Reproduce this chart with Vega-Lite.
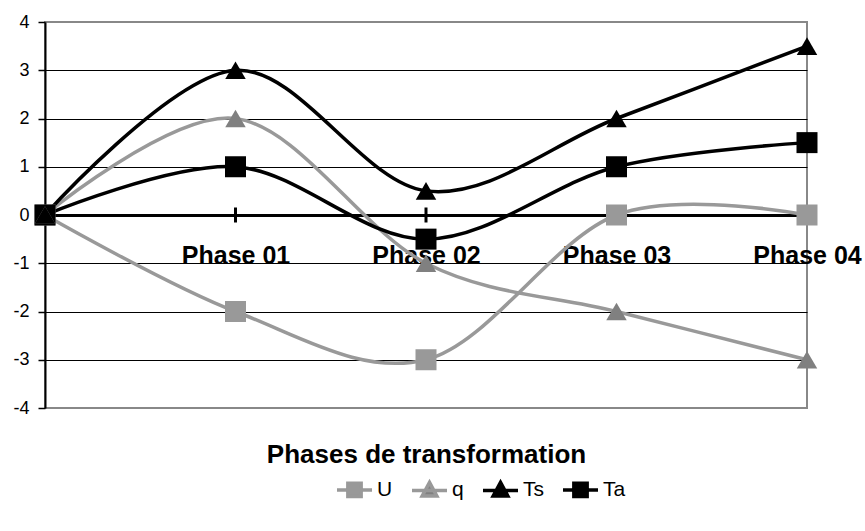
{
  "$schema": "https://vega.github.io/schema/vega-lite/v6.json",
  "width": 762,
  "height": 386,
  "autosize": "none",
  "padding": {"left": 45, "top": 22, "right": 58, "bottom": 123},
  "background": "white",
  "config": {
    "font": "Liberation Sans",
    "view": {"stroke": "#888888", "strokeWidth": 2},
    "axis": {"labelColor": "black", "titleColor": "black", "labelFont": "Liberation Sans", "titleFont": "Liberation Sans"},
    "legend": {"labelFont": "Liberation Sans", "labelColor": "black"}
  },
  "datasets": {
    "series": [
      {"phase": "Start", "series": "U", "value": 0},
      {"phase": "Phase 01", "series": "U", "value": -2},
      {"phase": "Phase 02", "series": "U", "value": -3},
      {"phase": "Phase 03", "series": "U", "value": 0},
      {"phase": "Phase 04", "series": "U", "value": 0},
      {"phase": "Start", "series": "q", "value": 0},
      {"phase": "Phase 01", "series": "q", "value": 2},
      {"phase": "Phase 02", "series": "q", "value": -1},
      {"phase": "Phase 03", "series": "q", "value": -2},
      {"phase": "Phase 04", "series": "q", "value": -3},
      {"phase": "Start", "series": "Ts", "value": 0},
      {"phase": "Phase 01", "series": "Ts", "value": 3},
      {"phase": "Phase 02", "series": "Ts", "value": 0.5},
      {"phase": "Phase 03", "series": "Ts", "value": 2},
      {"phase": "Phase 04", "series": "Ts", "value": 3.5},
      {"phase": "Start", "series": "Ta", "value": 0},
      {"phase": "Phase 01", "series": "Ta", "value": 1},
      {"phase": "Phase 02", "series": "Ta", "value": -0.5},
      {"phase": "Phase 03", "series": "Ta", "value": 1},
      {"phase": "Phase 04", "series": "Ta", "value": 1.5}
    ],
    "ticks": [
      {"phase": "Phase 01", "value": 0},
      {"phase": "Phase 02", "value": 0},
      {"phase": "Phase 03", "value": 0},
      {"phase": "Phase 04", "value": 0}
    ]
  },
  "layer": [
    {
      "data": {"name": "ticks"},
      "mark": {"type": "tick", "orient": "vertical", "color": "black", "size": 15, "thickness": 3, "opacity": 1},
      "encoding": {
        "x": {"field": "phase", "type": "ordinal", "scale": {"type": "point", "padding": 0, "domain": ["Start", "Phase 01", "Phase 02", "Phase 03", "Phase 04"]},
          "axis": {
            "orient": "bottom", "offset": -193, "domainColor": "black", "domainWidth": 3, "ticks": false,
            "labelFontSize": 25, "labelFontWeight": "bold", "labelPadding": 28, "labelAngle": 0,
            "labelExpr": "datum.value == 'Start' ? '' : datum.value",
            "title": "Phases de transformation", "titleFontSize": 26, "titleFontWeight": "bold",
            "titleY": 226, "titleBaseline": "top", "grid": false
          }},
        "y": {"field": "value", "type": "quantitative", "scale": {"domain": [-4, 4], "nice": false, "zero": false},
          "axis": {
            "title": null, "values": [-4, -3, -2, -1, 0, 1, 2, 3, 4],
            "labelExpr": "toString(datum.value)",
            "domainColor": "black", "domainWidth": 2, "tickColor": "black", "tickWidth": 1.5, "tickSize": 7,
            "labelFontSize": 18, "labelPadding": 9,
            "grid": true, "gridWidth": 1,
            "gridColor": {"condition": {"test": "abs(datum.value) == 4", "value": "#888888"}, "value": "black"}
          }}
      }
    },
    {
      "data": {"name": "series"},
      "mark": {"type": "line", "interpolate": "cardinal", "strokeWidth": 3.5},
      "encoding": {
        "x": {"field": "phase", "type": "ordinal"},
        "y": {"field": "value", "type": "quantitative"},
        "color": {"field": "series", "type": "nominal",
          "scale": {"domain": ["U", "q", "Ts", "Ta"], "range": ["#999999", "#999999", "black", "black"]},
          "legend": {
            "title": null, "orient": "none", "direction": "horizontal", "legendX": 290, "legendY": 448,
            "labelFontSize": 21, "labelOffset": 3, "columnPadding": 12, "symbolSize": 1225,
            "encode": {"symbols": {"update": {
              "shape": {"signal": "datum.value === 'U' || datum.value === 'Ta' ? 'M-1,0L1,0M-0.38,-0.38L0.38,-0.38L0.38,0.38L-0.38,0.38Z' : 'M-1,0L1,0M0,-0.46L0.42,0.32L-0.42,0.32Z'"},
              "fill": {"signal": "datum.value === 'U' ? '#999999' : datum.value === 'q' ? '#808080' : 'black'"},
              "stroke": {"signal": "datum.value === 'Ts' || datum.value === 'Ta' ? 'black' : '#999999'"},
              "strokeWidth": {"value": 3.5},
              "size": {"value": 1225},
              "opacity": {"value": 1},
              "fillOpacity": {"value": 1},
              "strokeOpacity": {"value": 1}
            }}}
          }},
        "detail": {"field": "series"}
      }
    },
    {
      "data": {"name": "series"},
      "transform": [{"filter": "datum.series === 'U' || datum.series === 'Ta'"}],
      "mark": {"type": "point", "shape": "square", "filled": true, "opacity": 1, "size": 441},
      "encoding": {
        "x": {"field": "phase", "type": "ordinal"},
        "y": {"field": "value", "type": "quantitative"},
        "fill": {"field": "series", "type": "nominal", "scale": {"domain": ["U", "q", "Ts", "Ta"], "range": ["#999999", "#808080", "black", "black"]}, "legend": null}
      }
    },
    {
      "data": {"name": "series"},
      "transform": [{"filter": "datum.series === 'q' || datum.series === 'Ts'"}],
      "mark": {"type": "point", "shape": "triangle-up", "filled": true, "opacity": 1, "size": 420},
      "encoding": {
        "x": {"field": "phase", "type": "ordinal"},
        "y": {"field": "value", "type": "quantitative"},
        "fill": {"field": "series", "type": "nominal", "legend": null}
      }
    }
  ]
}
